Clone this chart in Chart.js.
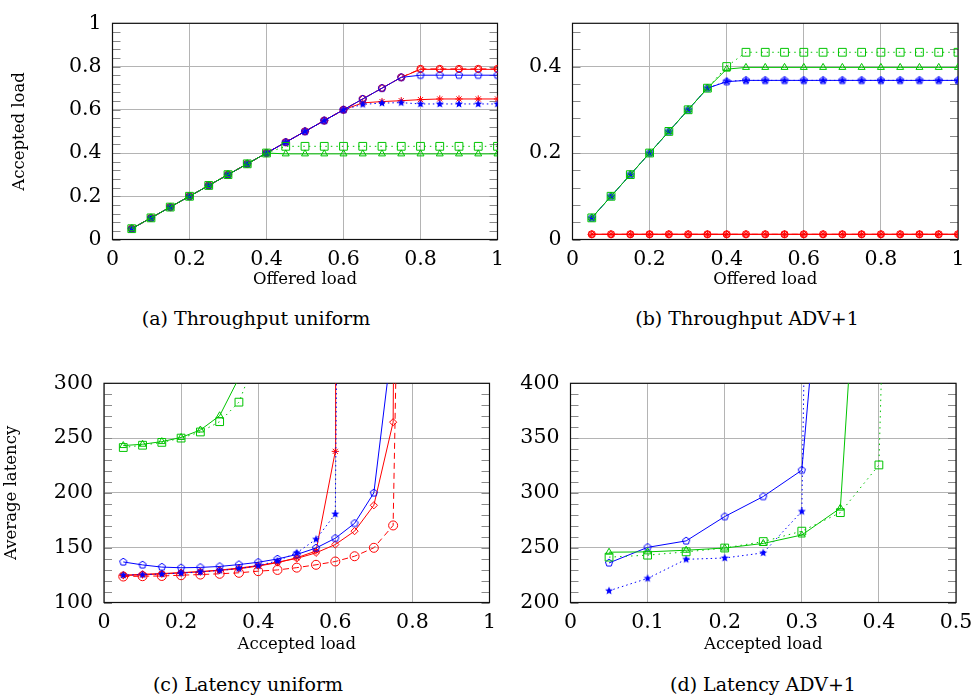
<!DOCTYPE html>
<html><head><meta charset="utf-8">
<script src="https://cdn.jsdelivr.net/npm/chart.js@4.4.0/dist/chart.umd.min.js"></script>
<style>
html,body{margin:0;padding:0;background:#fff;overflow:hidden;width:972px;height:698px;position:relative;}
canvas{position:absolute;}
.cap{position:absolute;width:400px;text-align:center;font-family:'DejaVu Serif';font-size:19px;line-height:22px;color:#000;white-space:nowrap;}
</style></head><body>
<canvas id="ca" width="520" height="300" style="left:0;top:0"></canvas>
<canvas id="cb" width="470" height="300" style="left:520px;top:0"></canvas>
<canvas id="cc" width="520" height="300" style="left:0;top:360px"></canvas>
<canvas id="cd" width="470" height="300" style="left:520px;top:360px"></canvas>
<div class="cap" style="left:56px;top:307px">(a) Throughput uniform</div>
<div class="cap" style="left:547px;top:307px">(b) Throughput ADV+1</div>
<div class="cap" style="left:48px;top:673px">(c) Latency uniform</div>
<div class="cap" style="left:563px;top:673px">(d) Latency ADV+1</div>
<script>
// ---------- data ----------
const offeredLoad = [0.05,0.10,0.15,0.20,0.25,0.30,0.35,0.40,0.45,0.50,0.55,0.60,0.65,0.70,0.75,0.80,0.85,0.90,0.95,1.00];

// (a) Throughput uniform (accepted load)
const thrUniBluePent = [0.05,0.10,0.15,0.20,0.25,0.30,0.35,0.40,0.45,0.50,0.55,0.60,0.65,0.70,0.75,0.76,0.76,0.76,0.76,0.76];
const thrUniBlueStar = [0.05,0.10,0.15,0.20,0.25,0.30,0.35,0.40,0.45,0.50,0.55,0.60,0.625,0.631,0.633,0.627,0.627,0.627,0.627,0.627];
const thrUniRedDiam  = [0.05,0.10,0.15,0.20,0.25,0.30,0.35,0.40,0.45,0.50,0.55,0.60,0.65,0.70,0.75,0.787,0.787,0.787,0.787,0.787];
const thrUniRedCross = [0.05,0.10,0.15,0.20,0.25,0.30,0.35,0.40,0.45,0.50,0.55,0.60,0.632,0.638,0.642,0.647,0.65,0.65,0.65,0.65];
const thrUniRedCirc  = [0.05,0.10,0.15,0.20,0.25,0.30,0.35,0.40,0.45,0.50,0.55,0.60,0.65,0.70,0.75,0.789,0.789,0.789,0.789,0.789];
const thrUniGreenTri = [0.05,0.10,0.15,0.20,0.25,0.30,0.35,0.40,0.396,0.396,0.396,0.396,0.396,0.396,0.396,0.396,0.396,0.396,0.396,0.396];
const thrUniGreenSq  = [0.05,0.10,0.15,0.20,0.25,0.30,0.35,0.40,0.431,0.431,0.431,0.431,0.431,0.431,0.431,0.431,0.431,0.431,0.431,0.431];

// (b) Throughput ADV+1
const thrAdvBluePent = [0.05,0.10,0.15,0.20,0.25,0.30,0.35,0.365,0.368,0.368,0.368,0.368,0.368,0.368,0.368,0.368,0.368,0.368,0.368,0.368];
const thrAdvBlueStar = [0.05,0.10,0.15,0.20,0.25,0.30,0.35,0.366,0.368,0.368,0.368,0.368,0.368,0.368,0.368,0.368,0.368,0.368,0.368,0.368];
const thrAdvRedDiam  = [0.012,0.012,0.012,0.012,0.012,0.012,0.012,0.012,0.012,0.012,0.012,0.012,0.012,0.012,0.012,0.012,0.012,0.012,0.012,0.012];
const thrAdvRedCross = [0.012,0.012,0.012,0.012,0.012,0.012,0.012,0.012,0.012,0.012,0.012,0.012,0.012,0.012,0.012,0.012,0.012,0.012,0.012,0.012];
const thrAdvRedCirc  = [0.012,0.012,0.012,0.012,0.012,0.012,0.012,0.012,0.012,0.012,0.012,0.012,0.012,0.012,0.012,0.012,0.012,0.012,0.012,0.012];
const thrAdvGreenTri = [0.05,0.10,0.15,0.20,0.25,0.30,0.35,0.394,0.398,0.398,0.398,0.398,0.398,0.398,0.398,0.398,0.398,0.398,0.398,0.398];
const thrAdvGreenSq  = [0.05,0.10,0.15,0.20,0.25,0.30,0.35,0.400,0.433,0.433,0.433,0.433,0.433,0.433,0.433,0.433,0.433,0.433,0.433,0.433];

// (c) Latency uniform: accepted load (x) / average latency (y)
const latUniBluePentX = [0.05,0.10,0.15,0.20,0.25,0.30,0.35,0.40,0.45,0.50,0.55,0.60,0.65,0.70,0.745];
const latUniBluePentY = [137.0,134.3,132.3,131.7,132.0,132.9,134.6,136.7,139.7,143.8,149.7,158.6,172.2,200.0,330];
const latUniBlueStarX = [0.05,0.10,0.15,0.20,0.25,0.30,0.35,0.40,0.45,0.50,0.55,0.60,0.606];
const latUniBlueStarY = [125.0,125.4,126.0,126.8,127.8,129.2,131.0,133.6,138.0,145.3,157.7,180.7,420];
const latUniRedDiamX  = [0.05,0.10,0.15,0.20,0.25,0.30,0.35,0.40,0.45,0.50,0.55,0.60,0.65,0.70,0.75,0.753];
const latUniRedDiamY  = [124.9,125.8,126.4,127.3,128.1,129.6,131.4,133.7,136.7,140.2,145.3,152.9,165.1,188.7,264.5,420];
const latUniRedCrossX = [0.05,0.10,0.15,0.20,0.25,0.30,0.35,0.40,0.45,0.50,0.55,0.60,0.601];
const latUniRedCrossY = [124.6,125.2,126.1,127.0,128.1,129.3,130.8,133.2,136.4,140.8,147.0,237.9,420];
const latUniRedCircX  = [0.05,0.10,0.15,0.20,0.25,0.30,0.35,0.40,0.45,0.50,0.55,0.60,0.65,0.70,0.75,0.763];
const latUniRedCircY  = [123.7,124.0,124.2,124.9,125.5,126.2,127.1,128.6,129.7,131.8,134.4,137.4,142.2,149.9,170.3,420];
const latUniGreenTriX = [0.05,0.10,0.15,0.20,0.25,0.30,0.35];
const latUniGreenTriY = [243.2,244.4,246.8,250.6,257.4,270.4,305];
const latUniGreenSqX  = [0.05,0.10,0.15,0.20,0.25,0.30,0.35,0.38];
const latUniGreenSqY  = [241.4,243.5,246.1,250.0,255.6,265.0,282.8,310];

// (d) Latency ADV+1
const latAdvBluePentX = [0.05,0.10,0.15,0.20,0.25,0.30,0.315];
const latAdvBluePentY = [236.1,250.3,256.2,278.4,296.7,320.7,440];
const latAdvBlueStarX = [0.05,0.10,0.15,0.20,0.25,0.30,0.3035];
const latAdvBlueStarY = [210.7,222.0,239.4,240.6,245.3,283.1,440];
const latAdvGreenTriX = [0.05,0.10,0.15,0.20,0.25,0.30,0.35,0.365];
const latAdvGreenTriY = [245.9,246.2,247.7,249.7,253.9,261.6,286.1,450];
const latAdvGreenSqX  = [0.05,0.10,0.15,0.20,0.25,0.30,0.35,0.40,0.405];
const latAdvGreenSqY  = [241.4,243.2,246.2,249.7,255.6,265.1,282.0,325.5,450];

// ticks
const ticksUnit   = [0,0.2,0.4,0.6,0.8,1];
const labelsUnit  = ['0','0.2','0.4','0.6','0.8','1'];
const ticksAdvY   = [0,0.2,0.4];
const labelsAdvY  = ['0','0.2','0.4'];
const ticksLatUniY  = [100,150,200,250,300];
const labelsLatUniY = ['100','150','200','250','300'];
const ticksLatAdvY  = [200,250,300,350,400];
const labelsLatAdvY = ['200','250','300','350','400'];
const ticksLatAdvX  = [0,0.1,0.2,0.3,0.4,0.5];
const labelsLatAdvX = ['0','0.1','0.2','0.3','0.4','0.5'];

// ---------- styles ----------
const BLUE = '#0000ff', RED = '#ff0000', GREEN = '#00c400', GRID = '#b4b4b4';
const FAM = "'DejaVu Serif', serif";
const TICK_FONT = {family: FAM, size: 20.5};
const TITLE_FONT = {family: FAM, size: 16.5};

function starMarker(color, R) {
  const s = 10, c = document.createElement('canvas'); c.width = c.height = s;
  const g = c.getContext('2d'); g.fillStyle = color; g.beginPath();
  for (let k = 0; k < 10; k++) {
    const r = k % 2 ? R * 0.45 : R, a = -Math.PI / 2 + k * Math.PI / 5;
    g.lineTo(s / 2 + r * Math.cos(a), s / 2 + r * Math.sin(a));
  }
  g.closePath(); g.fill(); return c;
}
function pentMarker(color, R) {
  const s = 10, c = document.createElement('canvas'); c.width = c.height = s;
  const g = c.getContext('2d'); g.strokeStyle = color; g.lineWidth = 1; g.beginPath();
  for (let k = 0; k < 5; k++) {
    const a = -Math.PI / 2 + k * 2 * Math.PI / 5;
    g.lineTo(s / 2 + R * Math.cos(a), s / 2 + R * Math.sin(a));
  }
  g.closePath(); g.stroke(); return c;
}
const STY = {
  greenSq:  {borderColor: GREEN, pointBorderColor: GREEN, borderDash: [1.5, 4], pointStyle: 'rect', pointRadius: 5.5},
  greenTri: {borderColor: GREEN, pointBorderColor: GREEN, pointStyle: 'triangle', pointRadius: 4},
  bluePent: {borderColor: BLUE, pointBorderColor: BLUE, pointStyle: pentMarker(BLUE, 3.8), pointRadius: 4},
  blueStar: {borderColor: BLUE, pointBorderColor: BLUE, borderDash: [1.5, 3], pointStyle: starMarker(BLUE, 4.2), pointRadius: 4},
  redDiam:  {borderColor: RED, pointBorderColor: RED, pointStyle: 'rectRot', pointRadius: 3.6},
  redCross: {borderColor: RED, pointBorderColor: RED, pointStyle: 'star', pointRadius: 3.6},
  redCirc:  {borderColor: RED, pointBorderColor: RED, borderDash: [6, 4], pointStyle: 'circle', pointRadius: 4.5},
  redCircSmall: {borderColor: RED, pointBorderColor: RED, borderDash: [6, 4], pointStyle: 'circle', pointRadius: 3.6},
};
function ds(style, xs, ys, clip) {
  const d = Object.assign({
    data: xs.map((x, i) => ({x: x, y: ys[i]})),
    borderWidth: 1, pointBorderWidth: 1, pointBackgroundColor: 'rgba(0,0,0,0)',
    tension: 0, fill: false, pointHoverRadius: 4
  }, style);
  if (clip) d.clip = clip;
  return d;
}

const framePlugin = {
  id: 'frame',
  beforeDatasetsDraw(chart) {
    const {ctx, chartArea: a} = chart, y = chart.scales.y;
    const step = chart.options.plugins.frame.minorStep;
    ctx.save();
    ctx.strokeStyle = '#8a8a8a'; ctx.lineWidth = 1; ctx.beginPath();
    for (let v = y.min; v <= y.max + 1e-9; v += step) {
      const py = Math.round(y.getPixelForValue(v)) + 0.5;
      ctx.moveTo(a.left, py); ctx.lineTo(a.left + 8, py);
      ctx.moveTo(a.right, py); ctx.lineTo(a.right - 8, py);
    }
    ctx.stroke();
    ctx.strokeStyle = '#111'; ctx.lineWidth = 1.2;
    ctx.strokeRect(a.left, a.top, a.right - a.left, a.bottom - a.top);
    ctx.restore();
  }
};

function build(id, sp) {
  return new Chart(document.getElementById(id), {
    type: 'line',
    data: {datasets: sp.datasets},
    options: {
      responsive: false, animation: false, devicePixelRatio: 1,
      events: [],
      layout: {padding: sp.pad},
      plugins: {legend: {display: false}, tooltip: {enabled: false}, frame: {minorStep: sp.minorStep}},
      scales: {
        x: {
          type: 'linear', min: sp.xMin, max: sp.xMax,
          afterBuildTicks: s => { s.ticks = sp.xTicks.map(v => ({value: v})); },
          afterFit: s => { s.height = sp.xH; },
          ticks: {callback: (v, i) => sp.xLabels[i], font: TICK_FONT, color: '#000', padding: 8, maxRotation: 0, autoSkip: false},
          grid: {color: GRID, lineWidth: 1, drawTicks: false},
          border: {display: false},
          title: {display: true, text: sp.xTitle, font: TITLE_FONT, color: '#000', padding: {top: 0, bottom: sp.xTitlePad}}
        },
        y: {
          type: 'linear', min: sp.yMin, max: sp.yMax,
          afterBuildTicks: s => { s.ticks = sp.yTicks.map(v => ({value: v})); },
          afterFit: s => { s.width = sp.yW; },
          ticks: {callback: (v, i) => sp.yLabels[i], font: TICK_FONT, color: '#000', padding: 11, autoSkip: false},
          grid: {color: GRID, lineWidth: 1, drawTicks: false},
          border: {display: false},
          title: {display: !!sp.yTitle, text: sp.yTitle || '', font: TITLE_FONT, color: '#000', padding: {top: sp.yTitlePad || 0, bottom: 0}}
        }
      }
    },
    plugins: [framePlugin]
  });
}

const CLIP_LAT = {left: 10, right: 10, top: 0, bottom: 10};

build('ca', {
  pad: {left: 0, top: 14, right: 22.5, bottom: 0}, yW: 112.5, xH: 60.5,
  xMin: 0, xMax: 1, yMin: 0, yMax: 1, minorStep: 0.04,
  xTicks: ticksUnit, xLabels: labelsUnit, yTicks: ticksUnit, yLabels: labelsUnit,
  xTitle: 'Offered load', xTitlePad: 10, yTitle: 'Accepted load', yTitlePad: 10,
  datasets: [
    ds(STY.greenSq, offeredLoad, thrUniGreenSq),
    ds(STY.greenTri, offeredLoad, thrUniGreenTri),
    ds(STY.bluePent, offeredLoad, thrUniBluePent),
    ds(STY.blueStar, offeredLoad, thrUniBlueStar),
    ds(STY.redDiam, offeredLoad, thrUniRedDiam),
    ds(STY.redCross, offeredLoad, thrUniRedCross),
    ds(STY.redCircSmall, offeredLoad, thrUniRedCirc)
  ]
});
build('cb', {
  pad: {left: 0, top: 14, right: 470 - 438, bottom: 0}, yW: 52.5, xH: 60.5,
  xMin: 0, xMax: 1, yMin: 0, yMax: 0.5, minorStep: 0.04,
  xTicks: ticksUnit, xLabels: labelsUnit, yTicks: ticksAdvY, yLabels: labelsAdvY,
  xTitle: 'Offered load', xTitlePad: 10,
  datasets: [
    ds(STY.redDiam, offeredLoad, thrAdvRedDiam),
    ds(STY.redCross, offeredLoad, thrAdvRedCross),
    ds(STY.redCircSmall, offeredLoad, thrAdvRedCirc),
    ds(STY.greenSq, offeredLoad, thrAdvGreenSq),
    ds(STY.greenTri, offeredLoad, thrAdvGreenTri),
    ds(STY.bluePent, offeredLoad, thrAdvBluePent),
    ds(STY.blueStar, offeredLoad, thrAdvBlueStar)
  ]
});
build('cc', {
  pad: {left: 0, top: 17.5, right: 520 - 489.5, bottom: 0}, yW: 104, xH: 57.5,
  xMin: 0, xMax: 1, yMin: 100, yMax: 300, minorStep: 10,
  xTicks: ticksUnit, xLabels: labelsUnit, yTicks: ticksLatUniY, yLabels: labelsLatUniY,
  xTitle: 'Accepted load', xTitlePad: 5, yTitle: 'Average latency', yTitlePad: 2,
  datasets: [
    ds(STY.greenSq, latUniGreenSqX, latUniGreenSqY, CLIP_LAT),
    ds(STY.greenTri, latUniGreenTriX, latUniGreenTriY, CLIP_LAT),
    ds(STY.bluePent, latUniBluePentX, latUniBluePentY, CLIP_LAT),
    ds(STY.blueStar, latUniBlueStarX, latUniBlueStarY, CLIP_LAT),
    ds(STY.redDiam, latUniRedDiamX, latUniRedDiamY, CLIP_LAT),
    ds(STY.redCross, latUniRedCrossX, latUniRedCrossY, CLIP_LAT),
    ds(STY.redCirc, latUniRedCircX, latUniRedCircY, CLIP_LAT)
  ]
});
build('cd', {
  pad: {left: 0, top: 17.5, right: 470 - 436, bottom: 0}, yW: 50.5, xH: 57.5,
  xMin: 0, xMax: 0.5, yMin: 200, yMax: 400, minorStep: 10,
  xTicks: ticksLatAdvX, xLabels: labelsLatAdvX, yTicks: ticksLatAdvY, yLabels: labelsLatAdvY,
  xTitle: 'Accepted load', xTitlePad: 5,
  datasets: [
    ds(STY.greenSq, latAdvGreenSqX, latAdvGreenSqY, CLIP_LAT),
    ds(STY.greenTri, latAdvGreenTriX, latAdvGreenTriY, CLIP_LAT),
    ds(STY.bluePent, latAdvBluePentX, latAdvBluePentY, CLIP_LAT),
    ds(STY.blueStar, latAdvBlueStarX, latAdvBlueStarY, CLIP_LAT)
  ]
});
</script>
</body></html>
